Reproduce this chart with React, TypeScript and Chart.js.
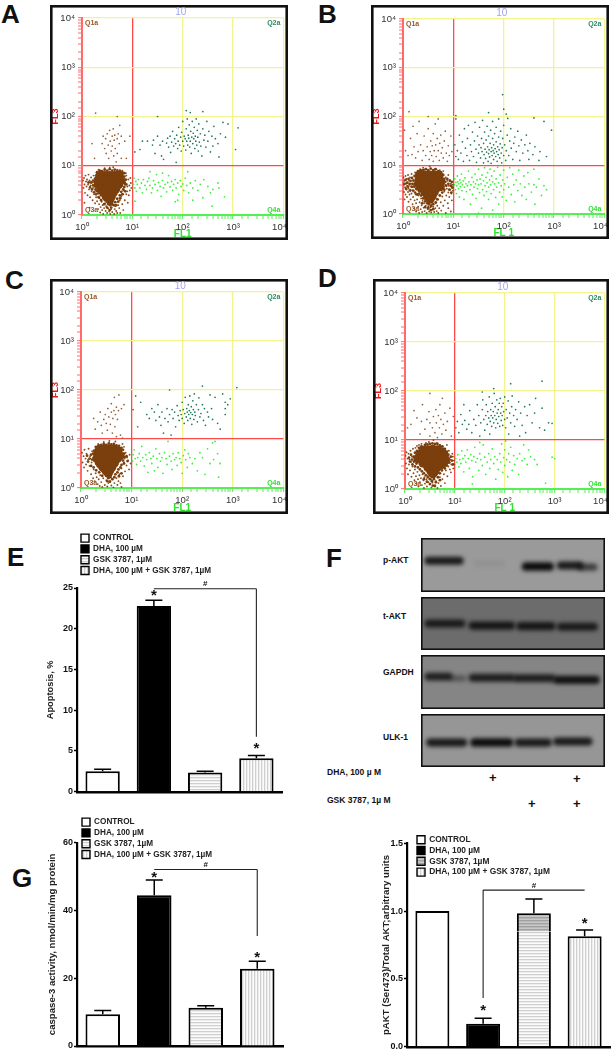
import React, { useEffect, useRef } from 'react';
import { Chart, registerables } from 'chart.js';
Chart.register(...registerables);

/* ---------- flow cytometry events, in decades (log10 of FL1, FL3) ---------- */
const aBlob = [[.36,.8],[.45,.8],[.55,.8],[.65,.8],[.74,.8],[.33,.71],[.43,.71],[.53,.71],[.63,.71],[.73,.71],[.77,.7],[.33,.62],[.43,.62],[.53,.62],[.63,.62],[.73,.62],[.38,.53],[.47,.53],[.57,.53],[.67,.53],[.44,.45],[.53,.45],[.62,.45],[.5,.37],[.58,.37],[.55,.31]];
const aHalo = [[.3,.87],[.35,.9],[.4,.89],[.45,.92],[.5,.9],[.55,.93],[.6,.9],[.65,.92],[.7,.89],[.75,.9],[.8,.87],[.84,.85],[.84,.78],[.87,.72],[.85,.65],[.88,.62],[.84,.57],[.82,.52],[.86,.48],[.78,.47],[.8,.42],[.75,.4],[.76,.34],[.7,.33],[.72,.27],[.66,.26],[.68,.2],[.63,.2],[.6,.22],[.56,.2],[.52,.22],[.58,.15],[.5,.27],[.46,.3],[.42,.35],[.5,.15],[.55,.1],[.38,.4],[.34,.44],[.3,.48],[.27,.52],[.26,.58],[.22,.6],[.25,.66],[.22,.7],[.26,.74],[.28,.8],[.18,.66],[.2,.52],[.16,.56],[.13,.66],[.24,.46],[.28,.42],[.33,.36],[.38,.3],[.44,.22]];
const aQ1 = [[.2,1.45],[.25,1.15],[.27,2.07],[.4,1.45],[.42,1.6],[.45,1.35],[.47,1.55],[.48,1.25],[.5,1.65],[.52,1.42],[.53,1.15],[.55,1.72],[.56,1.5],[.58,1.3],[.6,1.6],[.6,1.4],[.62,1.75],[.63,1.2],[.64,1.52],[.65,1.62],[.66,1.35],[.68,1.08],[.7,1.55],[.7,2.0],[.7,1.25],[.72,1.65],[.74,1.45],[.75,1.82],[.78,1.15],[.78,1.6],[.85,1.5],[.88,1.15],[.95,1.6]];
const aQ3 = [[.02,.7],[.03,.55],[.04,.75],[.05,.62],[.06,.45],[.07,.8],[.08,.68],[.09,.58],[.1,.72],[.11,.4],[.12,.62],[.13,.82],[.14,.52],[.15,.7],[.16,.36],[.17,.6],[.18,.76],[.19,.48],[.2,.66],[.21,.3],[.22,.55],[.23,.8],[.24,.42],[.25,.62],[.26,.24],[.27,.5],[.28,.36],[.29,.86],[.3,.28],[.31,.44],[.32,.12],[.33,.92],[.34,.22],[.35,.34],[.36,.05],[.37,.16],[.38,.9],[.39,.27],[.4,.1],[.41,.2],[.42,.02],[.43,.32],[.44,.14],[.45,.95],[.46,.24],[.47,.08],[.48,.18],[.5,.04],[.5,.28],[.52,.13],[.54,.07],[.55,.96],[.56,.02],[.58,.12],[.6,.06],[.62,.97],[.64,.02],[.65,.12],[.66,.18],[.68,.08],[.7,.04],[.7,.92],[.72,.2],[.74,.14],[.75,.3],[.76,.04],[.78,.38],[.8,.22],[.8,.9],[.82,.1],[.83,.5],[.85,.3],[.86,.7],[.87,.85],[.88,.42],[.9,.58],[.91,.25],[.92,.72],[.93,.4],[.94,.6],[.95,.5],[.96,.75],[.97,.65],[.98,.55],[.85,.62],[.88,.8],[.9,.48],[.82,.42],[.15,.15],[.05,.25]];
const aQ2 = [[1.05,1.28],[1.15,1.33],[1.2,1.5],[1.3,1.5],[1.4,1.42],[1.42,1.52],[1.45,1.25],[1.5,1.6],[1.55,1.42],[1.58,1.2],[1.6,1.5],[1.62,1.13],[1.68,1.46],[1.7,1.56],[1.72,1.38],[1.75,1.6],[1.76,1.27],[1.78,1.48],[1.8,1.7],[1.82,1.4],[1.84,1.55],[1.86,1.45],[1.87,1.07],[1.88,1.62],[1.9,1.35],[1.91,1.5],[1.92,1.78],[1.94,1.42],[1.96,1.58],[1.97,1.3],[1.98,1.68],[2.0,1.5],[2.0,1.9],[2.02,1.4],[2.03,1.6],[2.05,1.55],[2.06,1.32],[2.07,1.75],[2.08,1.5],[2.09,1.95],[2.1,1.42],[2.11,1.62],[2.12,1.56],[2.13,1.83],[2.14,1.38],[2.15,1.5],[2.16,1.7],[2.17,1.25],[2.18,1.58],[2.19,1.9],[2.2,1.45],[2.21,1.66],[2.22,1.55],[2.23,1.78],[2.24,1.35],[2.25,1.6],[2.26,1.5],[2.27,1.95],[2.28,1.42],[2.29,1.72],[2.3,1.58],[2.31,1.3],[2.32,1.85],[2.33,1.48],[2.35,1.65],[2.36,1.4],[2.38,1.2],[2.4,1.75],[2.42,1.52],[2.44,1.62],[2.46,1.38],[2.48,1.9],[2.5,1.5],[2.52,1.7],[2.55,1.28],[2.58,1.6],[2.6,1.4],[2.62,1.8],[2.65,1.55],[2.7,1.45],[2.72,1.18],[2.75,1.65],[2.8,1.88],[2.85,1.58],[2.9,1.85],[3.1,1.77],[3.05,1.33],[1.5,2.0],[2.07,2.12],[2.4,2.1],[2.15,2.08]];
const aQ4 = [[1.02,.62],[1.03,.75],[1.05,.55],[1.07,.68],[1.08,.48],[1.1,.62],[1.12,.72],[1.15,.55],[1.18,.65],[1.2,.45],[1.22,.72],[1.25,.6],[1.28,.52],[1.3,.68],[1.33,.75],[1.35,.6],[1.38,.45],[1.4,.55],[1.42,.7],[1.45,.62],[1.48,.82],[1.5,.5],[1.52,.66],[1.55,.58],[1.57,.38],[1.6,.7],[1.62,.55],[1.65,.62],[1.68,.47],[1.7,.66],[1.72,.8],[1.75,.57],[1.78,.68],[1.8,.5],[1.82,.62],[1.85,.72],[1.87,.55],[1.9,.65],[1.92,.42],[1.95,.7],[1.97,.58],[2.0,.63],[2.02,.5],[2.05,.75],[2.08,.6],[2.1,.88],[2.12,.45],[2.15,.65],[2.2,.55],[2.25,.7],[2.3,.5],[2.35,.62],[2.4,.35],[2.42,.72],[2.5,.58],[2.55,.45],[2.58,.18],[2.6,.52],[2.7,.65],[2.72,.55],[2.83,.37],[1.9,.3],[1.6,.85],[1.35,.88],[1.05,.28],[1.85,.27],[2.2,.3]];

const bBlob = [[.33,.8],[.42,.8],[.52,.8],[.62,.8],[.71,.8],[.32,.71],[.42,.71],[.52,.71],[.62,.71],[.72,.71],[.75,.66],[.31,.62],[.41,.62],[.51,.62],[.61,.62],[.71,.62],[.74,.56],[.36,.53],[.46,.53],[.56,.53],[.66,.53],[.44,.45],[.53,.45],[.62,.45],[.49,.37],[.58,.37],[.54,.31]];
const bHalo = [[.03,.62],[.05,.7],[.06,.52],[.08,.64],[.1,.56],[.11,.72],[.13,.62],[.14,.48],[.15,.68],[.17,.56],[.18,.74],[.19,.62],[.2,.48],[.21,.68],[.22,.56],[.23,.78],[.24,.62],[.24,.44],[.26,.7],[.26,.52],[.27,.84],[.28,.4],[.3,.88],[.32,.42],[.35,.9],[.36,.38],[.4,.9],[.4,.32],[.45,.92],[.44,.26],[.5,.9],[.48,.22],[.55,.93],[.52,.2],[.6,.9],[.56,.16],[.65,.92],[.6,.2],[.7,.88],[.65,.24],[.75,.86],[.68,.3],[.8,.8],[.73,.38],[.82,.72],[.78,.44],[.84,.66],[.82,.5],[.86,.58],[.88,.72],[.9,.62],[.92,.5],[.93,.68],[.95,.58],[.96,.44],[.97,.66],[.98,.54],[.5,.12],[.55,.08],[.44,.14],[.6,.1],[.38,.22]];
const bQ1 = [[.03,1.72],[.05,1.3],[.1,1.2],[.12,2.1],[.15,1.55],[.18,1.22],[.2,1.8],[.22,1.38],[.25,1.15],[.28,1.65],[.3,1.28],[.32,1.9],[.35,1.42],[.38,1.1],[.4,1.3],[.42,1.6],[.45,1.2],[.48,1.38],[.5,1.75],[.5,2.0],[.52,1.12],[.54,1.28],[.55,1.5],[.57,1.2],[.58,1.4],[.6,1.65],[.6,1.08],[.62,1.3],[.64,1.85],[.65,1.42],[.66,1.18],[.68,1.55],[.7,1.3],[.7,1.95],[.72,1.1],[.73,1.45],[.75,1.62],[.76,1.25],[.78,1.36],[.8,1.15],[.82,1.5],[.84,1.7],[.86,1.25],[.88,1.08],[.9,1.4],[.92,1.2],[.95,1.6],[.97,1.28]];
const bQ3 = [[.01,.75],[.02,.6],[.02,.45],[.03,.68],[.03,.3],[.04,.55],[.05,.78],[.05,.4],[.06,.62],[.07,.5],[.07,.72],[.08,.35],[.08,.58],[.09,.65],[.1,.45],[.1,.8],[.11,.52],[.11,.25],[.12,.68],[.13,.4],[.13,.6],[.14,.75],[.15,.3],[.15,.5],[.16,.62],[.17,.42],[.17,.82],[.18,.55],[.19,.2],[.2,.7],[.2,.35],[.21,.48],[.22,.6],[.22,.12],[.23,.28],[.24,.85],[.25,.4],[.26,.05],[.26,.22],[.27,.5],[.28,.3],[.29,.88],[.3,.15],[.31,.38],[.32,.02],[.33,.24],[.34,.92],[.35,.1],[.36,.32],[.37,.18],[.38,.04],[.39,.27],[.4,.95],[.41,.13],[.42,.22],[.43,.06],[.44,.3],[.45,.17],[.46,.93],[.47,.02],[.48,.24],[.49,.1],[.5,.16],[.52,.05],[.53,.98],[.54,.14],[.56,.03],[.57,.2],[.58,.09],[.6,.15],[.62,.04],[.63,.92],[.64,.12],[.65,.22],[.67,.06],[.68,.17],[.7,.3],[.7,.02],[.72,.12],[.73,.9],[.75,.24],[.76,.07],[.78,.36],[.8,.17],[.8,.88],[.82,.46],[.83,.28],[.84,.6],[.85,.75],[.86,.38],[.87,.52],[.88,.68],[.89,.22],[.9,.44],[.9,.8],[.91,.58],[.92,.35],[.93,.7],[.94,.5],[.95,.62],[.96,.42],[.97,.56],[.97,.28],[.98,.66],[.99,.48],[.99,.6],[.9,.12],[.95,.05],[.85,.02]];
const bQ2 = [[1.03,1.42],[1.05,1.18],[1.05,1.95],[1.08,1.3],[1.1,1.12],[1.12,1.62],[1.15,1.25],[1.18,1.48],[1.2,1.08],[1.22,1.75],[1.24,1.35],[1.27,1.2],[1.28,1.55],[1.3,1.82],[1.32,1.1],[1.34,1.42],[1.36,1.28],[1.38,1.68],[1.4,1.18],[1.42,1.5],[1.43,1.88],[1.45,1.33],[1.46,1.06],[1.48,1.6],[1.5,1.25],[1.51,1.42],[1.52,1.78],[1.54,1.15],[1.55,1.36],[1.56,1.55],[1.57,1.28],[1.58,1.92],[1.6,1.05],[1.6,1.45],[1.61,1.22],[1.62,1.68],[1.63,1.33],[1.64,1.14],[1.65,1.52],[1.66,1.27],[1.67,1.8],[1.68,1.38],[1.69,1.08],[1.7,1.24],[1.7,1.6],[1.71,1.32],[1.72,1.17],[1.73,1.45],[1.74,1.72],[1.75,1.28],[1.75,1.04],[1.76,1.36],[1.77,1.2],[1.78,1.55],[1.78,1.9],[1.79,1.3],[1.8,1.12],[1.8,1.42],[1.81,1.25],[1.82,1.65],[1.83,1.34],[1.84,1.18],[1.85,1.48],[1.85,1.78],[1.86,1.28],[1.87,1.08],[1.88,1.38],[1.89,1.22],[1.9,1.58],[1.9,1.95],[1.91,1.32],[1.92,1.15],[1.93,1.44],[1.94,1.7],[1.95,1.25],[1.96,1.05],[1.97,1.36],[1.98,1.55],[2,1.2],[2,1.82],[2.02,1.42],[2.04,1.1],[2.05,1.3],[2.07,1.62],[2.08,1.96],[2.1,1.2],[2.12,1.5],[2.14,1.75],[2.15,1.35],[2.18,1.12],[2.2,1.45],[2.22,1.58],[2.25,1.28],[2.28,1.7],[2.3,1.4],[2.32,1.1],[2.35,1.52],[2.38,1.25],[2.42,1.42],[2.45,1.62],[2.48,1.3],[2.5,1.12],[2.52,1.45],[2.58,1.22],[2.6,1.97],[2.62,1.38],[2.7,1.1],[2.72,1.28],[2.8,1.9],[2.85,1.18],[2.95,1.72],[1.98,2.45],[2.0,2.15],[2.05,2.05],[1.7,2.08],[1.05,2.02]];
const bQ4 = [[1.02,.6],[1.03,.72],[1.04,.5],[1.05,.65],[1.06,.42],[1.07,.58],[1.08,.78],[1.09,.66],[1.1,.52],[1.11,.62],[1.12,.35],[1.13,.7],[1.14,.56],[1.15,.64],[1.16,.82],[1.17,.48],[1.18,.6],[1.2,.68],[1.21,.3],[1.22,.55],[1.23,.74],[1.25,.62],[1.26,.46],[1.28,.58],[1.3,.88],[1.31,.66],[1.33,.5],[1.34,.2],[1.35,.6],[1.37,.75],[1.38,.4],[1.4,.66],[1.41,.55],[1.43,.82],[1.44,.62],[1.45,.32],[1.47,.7],[1.48,.52],[1.5,.92],[1.5,.6],[1.52,.44],[1.53,.72],[1.55,.62],[1.56,.12],[1.57,.8],[1.58,.5],[1.6,.68],[1.61,.38],[1.62,.95],[1.63,.58],[1.65,.75],[1.66,.46],[1.67,.64],[1.68,.85],[1.7,.3],[1.7,.55],[1.72,.7],[1.73,.92],[1.74,.6],[1.75,.42],[1.76,.78],[1.78,.66],[1.78,.08],[1.8,.5],[1.81,.88],[1.82,.62],[1.84,.34],[1.85,.72],[1.86,.55],[1.88,.96],[1.9,.64],[1.9,.2],[1.92,.45],[1.93,.8],[1.95,.58],[1.97,.35],[1.98,.7],[2,.9],[2,.5],[2.02,.62],[2.05,.28],[2.07,.75],[2.1,.55],[2.12,.95],[2.15,.4],[2.18,.82],[2.2,.6],[2.22,.25],[2.25,.7],[2.28,.48],[2.3,.9],[2.33,.62],[2.36,.38],[2.4,.78],[2.42,.55],[2.45,.3],[2.48,.85],[2.5,.62],[2.55,.45],[2.6,.92],[2.62,.2],[2.65,.55],[2.7,.72],[2.75,.38],[2.8,.58],[2.85,.5],[2.6,.6],[1.5,.02]];

const cBlob = [[.36,.78],[.45,.79],[.55,.8],[.65,.79],[.73,.76],[.33,.69],[.43,.7],[.53,.7],[.63,.7],[.73,.68],[.77,.66],[.32,.6],[.42,.6],[.52,.6],[.62,.6],[.72,.6],[.37,.51],[.46,.51],[.56,.51],[.66,.51],[.43,.43],[.52,.43],[.61,.43],[.49,.36],[.57,.36],[.54,.3]];
const cHalo = [[.3,.84],[.35,.87],[.4,.88],[.45,.9],[.5,.88],[.55,.91],[.6,.89],[.65,.9],[.7,.87],[.75,.86],[.8,.82],[.83,.78],[.85,.7],[.86,.63],[.83,.56],[.85,.5],[.8,.47],[.78,.42],[.74,.38],[.72,.32],[.68,.28],[.66,.22],[.62,.18],[.58,.22],[.54,.2],[.5,.25],[.57,.13],[.52,.14],[.46,.3],[.42,.35],[.38,.4],[.34,.44],[.3,.5],[.27,.55],[.25,.62],[.22,.58],[.24,.7],[.2,.68],[.26,.76],[.17,.6],[.14,.54],[.12,.66],[.2,.45],[.25,.42],[.3,.36],[.36,.32],[.42,.25],[.75,.24],[.8,.3],[.9,.65],[.92,.55]];
const cQ1 = [[.25,1.42],[.28,1.2],[.33,1.35],[.38,1.55],[.4,1.28],[.42,1.12],[.45,1.4],[.48,1.5],[.5,1.32],[.52,1.18],[.53,1.62],[.55,1.45],[.58,1.3],[.6,1.55],[.6,1.72],[.62,1.12],[.63,1.42],[.65,1.58],[.66,1.85],[.67,1.25],[.68,1.5],[.7,1.65],[.7,1.05],[.72,1.4],[.74,1.58],[.78,1.08],[.8,1.62],[.85,1.7],[.82,1.02],[.75,1.9]];
const cQ3 = [[.02,.72],[.03,.52],[.05,.65],[.06,.42],[.07,.78],[.09,.6],[.1,.48],[.11,.7],[.13,.35],[.14,.58],[.15,.8],[.17,.45],[.18,.65],[.2,.28],[.21,.52],[.22,.75],[.24,.2],[.25,.38],[.27,.14],[.28,.84],[.29,.3],[.31,.22],[.33,.08],[.34,.9],[.35,.18],[.37,.04],[.38,.26],[.4,.12],[.42,.02],[.44,.2],[.45,.94],[.47,.06],[.5,.16],[.52,.03],[.54,.1],[.56,.96],[.58,.14],[.6,.05],[.62,.18],[.64,.01],[.66,.1],[.68,.95],[.7,.2],[.72,.06],[.74,.14],[.76,.28],[.78,.1],[.8,.02],[.8,.4],[.82,.9],[.83,.24],[.85,.52],[.87,.34],[.88,.72],[.9,.46],[.91,.62],[.93,.56],[.95,.38],[.96,.68],[.98,.5],[.85,.84],[.86,.6]];
const cQ2 = [[1.03,1.6],[1.08,1.88],[1.12,1.25],[1.18,1.75],[1.3,1.5],[1.35,1.42],[1.4,1.62],[1.45,1.55],[1.48,1.38],[1.52,1.7],[1.55,1.45],[1.58,1.28],[1.6,1.55],[1.63,1.12],[1.66,1.42],[1.7,1.62],[1.72,1.35],[1.75,1.5],[1.78,1.08],[1.8,1.6],[1.82,1.42],[1.85,1.55],[1.87,1.25],[1.9,1.68],[1.92,1.48],[1.94,1.38],[1.96,1.58],[1.98,1.5],[2,1.75],[2,1.42],[2.02,1.6],[2.04,1.32],[2.05,1.52],[2.06,1.85],[2.08,1.45],[2.09,1.62],[2.1,1.55],[2.11,1.38],[2.12,1.7],[2.13,1.5],[2.14,1.58],[2.15,1.88],[2.16,1.42],[2.17,1.54],[2.18,1.66],[2.19,1.3],[2.2,1.5],[2.21,1.78],[2.22,1.6],[2.23,1.4],[2.24,1.92],[2.25,1.55],[2.26,1.48],[2.28,1.7],[2.3,1.35],[2.32,1.6],[2.33,1.84],[2.35,1.45],[2.37,1.52],[2.4,1.7],[2.42,1.38],[2.44,1.62],[2.46,1.28],[2.5,1.55],[2.52,1.45],[2.55,1.9],[2.58,1.62],[2.6,1.4],[2.65,1.85],[2.7,1.32],[2.75,1.2],[2.8,1.92],[2.85,1.75],[2.9,1.7],[2.95,1.82],[2.85,1.62],[1.75,2.0],[2.4,2.08],[2.85,1.5],[3.08,2.05]];
const cQ4 = [[1.02,.55],[1.03,.68],[1.05,.78],[1.07,.6],[1.1,.48],[1.12,.62],[1.15,.7],[1.18,.55],[1.2,.85],[1.22,.62],[1.25,.45],[1.28,.68],[1.3,.58],[1.32,.32],[1.35,.72],[1.38,.6],[1.4,.5],[1.43,.65],[1.45,.35],[1.48,.8],[1.5,.6],[1.52,.42],[1.55,.7],[1.57,.55],[1.6,.62],[1.62,.3],[1.65,.72],[1.68,.6],[1.7,.48],[1.72,.95],[1.75,.65],[1.78,.55],[1.8,.38],[1.82,.7],[1.85,.58],[1.88,.62],[1.9,.46],[1.92,.72],[1.95,.6],[1.98,.52],[2,.3],[2.02,.66],[2.05,.78],[2.07,.58],[2.1,.42],[2.12,.7],[2.15,.62],[2.2,.5],[2.25,.6],[2.3,.35],[2.35,.72],[2.4,.62],[2.45,.28],[2.5,.8],[2.55,.5],[2.6,.92],[2.62,.58],[2.7,.7],[2.75,.5],[2.72,.22],[2.65,.95]];

const dBlob = [[.36,.79],[.46,.8],[.56,.81],[.66,.8],[.74,.76],[.3,.7],[.4,.71],[.5,.72],[.6,.72],[.7,.71],[.79,.68],[.26,.62],[.36,.62],[.46,.62],[.56,.62],[.66,.62],[.76,.62],[.81,.58],[.36,.53],[.46,.53],[.56,.53],[.66,.53],[.74,.5],[.46,.44],[.55,.44],[.64,.44],[.52,.36],[.6,.36],[.56,.31]];
const dHalo = [[.08,.64],[.1,.56],[.12,.7],[.14,.6],[.15,.5],[.17,.66],[.18,.56],[.2,.74],[.2,.46],[.22,.62],[.23,.52],[.24,.78],[.26,.44],[.28,.84],[.3,.4],[.33,.87],[.34,.36],[.4,.9],[.38,.32],[.45,.91],[.42,.28],[.5,.92],[.46,.24],[.55,.93],[.5,.2],[.6,.92],[.54,.16],[.65,.92],[.58,.2],[.7,.89],[.62,.14],[.75,.87],[.66,.24],[.8,.82],[.7,.32],[.84,.76],[.74,.38],[.87,.7],[.8,.42],[.88,.62],[.84,.48],[.89,.54],[.92,.66],[.94,.58],[.96,.5],[.5,.1],[.56,.07],[.44,.15],[.6,.06],[.38,.2],[.7,.18]];
const dQ1 = [[.05,1.25],[.12,1.32],[.18,1.6],[.24,1.45],[.3,1.12],[.33,1.38],[.35,1.72],[.4,1.22],[.44,1.42],[.48,1.58],[.5,1.08],[.5,1.35],[.5,1.95],[.55,1.25],[.57,1.48],[.6,1.15],[.62,1.62],[.63,1.35],[.65,1.05],[.67,1.5],[.69,1.25],[.7,1.72],[.72,1.42],[.74,1.12],[.75,1.85],[.77,1.32],[.8,1.55],[.82,1.2],[.85,1.38],[.9,1.65],[.93,1.08],[.97,1.48]];
const dQ3 = [[.01,.68],[.02,.52],[.03,.75],[.04,.42],[.05,.62],[.06,.3],[.07,.72],[.08,.5],[.09,.6],[.1,.38],[.11,.78],[.12,.55],[.13,.25],[.14,.66],[.15,.46],[.16,.82],[.17,.32],[.18,.56],[.19,.18],[.2,.4],[.21,.84],[.22,.26],[.23,.12],[.24,.88],[.25,.35],[.26,.2],[.27,.05],[.28,.9],[.29,.28],[.3,.14],[.32,.22],[.33,.92],[.34,.08],[.35,.3],[.37,.18],[.38,.02],[.39,.24],[.4,.11],[.42,.94],[.43,.2],[.44,.05],[.46,.26],[.47,.14],[.48,.96],[.5,.1],[.52,.2],[.53,.03],[.55,.13],[.57,1.0],[.58,.22],[.6,.08],[.62,.16],[.64,.94],[.65,.02],[.67,.12],[.7,.24],[.72,.06],[.75,.2],[.78,.3],[.8,.12],[.82,.38],[.84,.9],[.85,.26],[.87,.46],[.88,.78],[.9,.4],[.91,.6],[.93,.5],[.95,.72],[.97,.42],[.98,.58],[.99,.5],[.92,.34],[.96,.66]];
const dQ2 = [[1.02,1.25],[1.05,1.38],[1.08,1.15],[1.12,1.52],[1.15,1.32],[1.18,1.72],[1.2,1.4],[1.24,1.22],[1.28,1.32],[1.3,1.6],[1.34,1.15],[1.38,1.42],[1.42,1.3],[1.45,1.72],[1.48,1.5],[1.5,1.08],[1.52,1.35],[1.55,1.62],[1.56,1.82],[1.58,1.42],[1.6,1.2],[1.62,1.5],[1.63,1.72],[1.65,1.32],[1.66,1.58],[1.68,1.45],[1.69,1.88],[1.7,1.12],[1.71,1.38],[1.72,1.62],[1.73,1.5],[1.74,1.28],[1.75,1.75],[1.76,1.45],[1.77,1.58],[1.78,1.35],[1.79,1.95],[1.8,1.5],[1.81,1.68],[1.82,1.25],[1.83,1.42],[1.84,1.82],[1.85,1.55],[1.86,1.34],[1.87,1.62],[1.88,1.48],[1.89,1.75],[1.9,1.28],[1.91,1.85],[1.92,1.55],[1.93,1.4],[1.94,1.68],[1.95,1.5],[1.96,1.3],[1.97,1.75],[1.98,1.58],[2,1.42],[2,1.88],[2.02,1.25],[2.03,1.62],[2.05,1.45],[2.07,1.8],[2.08,1.12],[2.1,1.55],[2.12,1.35],[2.14,1.68],[2.15,1.9],[2.18,1.5],[2.2,1.28],[2.22,1.62],[2.25,1.42],[2.28,1.78],[2.3,1.08],[2.32,1.55],[2.35,1.3],[2.4,1.68],[2.42,1.15],[2.45,1.5],[2.5,1.72],[2.55,1.35],[2.6,1.55],[2.62,1.85],[2.7,1.25],[2.75,1.65],[2.8,1.2],[2.88,1.35],[2.95,1.34],[1.78,2.05],[2.12,2.15],[2.75,2.2],[1.55,1.98]];
const dQ4 = [[1.02,.62],[1.04,.55],[1.06,.7],[1.08,.45],[1.1,.6],[1.12,.52],[1.14,.78],[1.16,.62],[1.18,.35],[1.2,.68],[1.22,.55],[1.25,.8],[1.27,.62],[1.29,.42],[1.32,.7],[1.34,.58],[1.36,.25],[1.38,.66],[1.4,.85],[1.42,.55],[1.45,.62],[1.48,.38],[1.5,.72],[1.52,.6],[1.55,.48],[1.57,.9],[1.6,.65],[1.62,.3],[1.65,.55],[1.68,.72],[1.7,.42],[1.72,.6],[1.75,.82],[1.78,.52],[1.8,.66],[1.82,.2],[1.85,.6],[1.87,.4],[1.9,.72],[1.92,.55],[1.94,.92],[1.96,.34],[1.98,.64],[2,.8],[2,.48],[2.02,.98],[2.04,.6],[2.06,.25],[2.08,.72],[2.1,.55],[2.12,.85],[2.15,.38],[2.18,.68],[2.2,.5],[2.25,.62],[2.28,.3],[2.3,.72],[2.35,.58],[2.38,.9],[2.4,.62],[2.45,.5],[2.48,.8],[2.52,.66],[2.6,.6],[2.65,.5],[2.95,.65],[3.0,.62],[2.82,.12],[1.35,.1],[1.5,.95]];

/* ---------- bar panels ---------- */
const groups = ['CONTROL', 'DHA, 100 µM', 'GSK 3787, 1µM', 'DHA, 100 µM + GSK 3787, 1µM'];
const apoptosis = [2.5, 22.8, 2.35, 4.1];
const apoptosisTop = [2.75, 23.5, 2.5, 4.45];
const caspase = [9.4, 44.5, 11.3, 22.8];
const caspaseTop = [10.5, 49, 11.9, 25];
const pakt = [1, 0.17, 0.85, 0.815];
const paktDarkCap = [null, null, 0.135, null];
const paktTop = [null, 0.21, 1.09, 0.86];

/* ---------- western blots: [from %, to %, row %, density] ---------- */
const pAktBands = [[4,21,42,.9],[30,44,47,.07],[57,70,53,1],[76,86,51,.9],[87,94,54,.65]];
const tAktBands = [[4,22,50,.85],[28,49,54,.9],[54,71,55,.9],[76,94,56,.85]];
const gapdhBands = [[4,15,40,.85],[17,23,43,.4],[28,49,42,.85],[52,71,43,.85],[74,95,46,.95]];
const ulkBands = [[5,23,54,.9],[29,48,54,1],[53,69,54,.9],[74,91,52,.9]];

const FONT = '"Liberation Sans", Arial, sans-serif';
const decadeLabels: Record<number, string> = { 1: '10⁰', 10: '10¹', 100: '10²', 1000: '10³', 10000: '10⁴' };
const isDecade = (v: number) => decadeLabels[v] !== undefined;
const toEvents = (list: number[][]) => list.map(([x, y]) => ({ x: 10 ** x, y: 10 ** y }));

const stripes = (vertical: boolean, shades: string[]) => {
  const c = document.createElement('canvas');
  c.width = vertical ? shades.length : 1;
  c.height = vertical ? 1 : shades.length;
  const g = c.getContext('2d')!;
  shades.forEach((s, i) => { g.fillStyle = s; g.fillRect(vertical ? i : 0, vertical ? 0 : i, 1, 1); });
  return g.createPattern(c, 'repeat')!;
};

const frame = (lw: number, background?: string) => ({
  id: 'frame',
  beforeDraw(ch: any) {
    if (!background) return;
    ch.ctx.fillStyle = background;
    ch.ctx.fillRect(0, 0, ch.width, ch.height);
  },
  afterDraw(ch: any) {
    const c = ch.ctx;
    c.save(); c.strokeStyle = '#111'; c.lineWidth = lw;
    c.strokeRect(lw / 2, lw / 2, ch.width - lw, ch.height - lw);
    c.restore();
  },
});

const fixSize = (key: 'width' | 'height', size: number) => (s: any) => {
  s[key] = size;
  s.paddingLeft = s.paddingRight = s.paddingTop = s.paddingBottom = 0;
};

function flowConfig(g: any, d: any) {
  const BROWN = '#7a3f0c';
  const grid = (axisColor: string) => ({
    color: (c: any) => (c.tick.value === 10 ? '#ff4a4a' : isDecade(c.tick.value) ? '#f4f48e' : 'transparent'),
    lineWidth: (c: any) => (isDecade(c.tick.value) ? 1.3 : 0),
    tickColor: axisColor, tickWidth: 1, tickLength: 4, drawTicks: true,
  });
  const tickFont = { family: FONT, size: 9.5 };
  const cb = (v: any) => decadeLabels[v] ?? '';
  const cornerLabels = {
    id: 'flowText',
    afterDraw(ch: any) {
      const { left, right, top, bottom } = ch.chartArea;
      const c = ch.ctx;
      c.save(); c.textBaseline = 'middle';
      c.font = `bold 7px ${FONT}`;
      c.textAlign = 'left';
      c.fillStyle = '#96582a'; c.fillText('Q1a', left + 3, top + 5); c.fillText('Q3a', left + 3, bottom - 5);
      c.textAlign = 'right';
      c.fillStyle = '#2a8a60'; c.fillText('Q2a', right - 3, top + 5);
      c.fillStyle = '#33e033'; c.fillText('Q4a', right - 3, bottom - 5);
      c.font = `10px ${FONT}`; c.textAlign = 'center'; c.fillStyle = '#a3a3ee';
      c.fillText('10', (left + right) / 2 - 2, top - 6);
      c.restore();
    },
  };
  const ds = (list: number[][], color: string, r: number) => ({
    data: toEvents(list), backgroundColor: color, borderWidth: 0, pointRadius: r, pointHoverRadius: r,
  });
  return {
    type: 'scatter',
    data: { datasets: [ds(d.blob, BROWN, 4.6), ds(d.halo, BROWN, 1.4), ds(d.q3, '#8a4e1e', .95), ds(d.q1, '#96603a', .85), ds(d.q2, '#1f7a55', .85), ds(d.q4, '#3cf03c', .9)] },
    plugins: [frame(2.6), cornerLabels],
    options: {
      responsive: false, animation: false, events: [],
      layout: { padding: { top: g.top, right: g.right, left: 0, bottom: 0 } },
      plugins: { legend: { display: false }, tooltip: { enabled: false } },
      scales: {
        x: {
          type: 'logarithmic', min: 1, max: 10000, afterFit: fixSize('height', g.bottom),
          grid: grid('#55ee55'), border: { color: '#55ee55', width: 2 },
          ticks: { autoSkip: false, maxRotation: 0, callback: (v: any) => (v === 10000 ? '10⁴   ' : cb(v)), color: '#333', font: tickFont, padding: 3 },
          title: { display: true, text: d.xTitle, color: '#2fe02f', font: { family: FONT, size: 10, weight: 'bold' }, padding: 0 },
        },
        y: {
          type: 'logarithmic', min: 1, max: 10000, afterFit: fixSize('width', g.left),
          grid: grid('#ff6a6a'), border: { color: '#ff6a6a', width: 2 },
          ticks: { autoSkip: false, callback: cb, color: '#333', font: tickFont, padding: 3 },
          title: { display: true, text: 'FL3', color: '#f01818', font: { family: FONT, size: 9, weight: 'bold' }, padding: 0 },
        },
      },
    },
  };
}

function blotConfig(bands: number[][], background: string) {
  const blur = {
    id: 'blur',
    beforeDatasetsDraw(ch: any) { ch.ctx.save(); ch.ctx.filter = 'blur(1.9px)'; },
    afterDatasetsDraw(ch: any) { ch.ctx.restore(); },
  };
  return {
    type: 'scatter',
    data: {
      datasets: bands.map(([from, to, row, density]) => ({
        data: [{ x: from, y: row }, { x: to, y: row }], showLine: true, pointRadius: 0,
        borderColor: `rgba(12,12,12,${density})`, borderWidth: 4.5 + 4 * density, borderCapStyle: 'round',
      })),
    },
    plugins: [frame(1.6, background), blur],
    options: {
      responsive: false, animation: false, events: [],
      plugins: { legend: { display: false }, tooltip: { enabled: false } },
      scales: { x: { display: false, min: 0, max: 100 }, y: { display: false, min: 0, max: 100, reverse: true } },
    },
  };
}

function barConfig(b: any) {
  const hStripe = stripes(false, ['#cfcfcf', '#eeeeee', '#fbfbfb']);
  const vStripe = stripes(true, ['#cfcfcf', '#eeeeee', '#fbfbfb']);
  const darkStripe = stripes(false, ['#a0a0a0', '#b8b8b8', '#c8c8c8']);
  const fills = ['#fff', '#000', hStripe, vStripe];
  const legendFills = b.darkLegend ? ['#fff', '#000', darkStripe, vStripe] : fills;
  const marks = {
    id: 'marks',
    afterLayout(ch: any) {
      const lg = ch.legend;
      lg.left = b.legendX - lg.options.labels.padding;
      lg.top = b.legendY - lg.options.labels.padding;
      lg.right = ch.width; lg.bottom = ch.height;
    },
    afterDatasetsDraw(ch: any) {
      const c = ch.ctx; const xs = ch.scales.x; const ys = ch.scales.y;
      const bars = ch.getDatasetMeta(0).data;
      c.save(); c.strokeStyle = '#000'; c.lineWidth = 1.5;
      b.top.forEach((v: number | null, i: number) => {
        if (v === null) return;
        const x = bars[i].x; const barTop = ys.getPixelForValue(b.stackTop ? b.stackTop[i] : b.values[i]); const y = ys.getPixelForValue(v);
        c.beginPath(); c.moveTo(x, barTop); c.lineTo(x, y); c.moveTo(x - 8.5, y); c.lineTo(x + 8.5, y); c.stroke();
      });
      c.lineWidth = 1.1; c.strokeStyle = '#222';
      const x1 = xs.getPixelForValue(1); const x2 = xs.getPixelForValue(3);
      const yB = ys.getPixelForValue(b.bracket.level); const yEnd = ys.getPixelForValue(b.bracket.end);
      const legX = b.bracket.legAt === 1 ? x1 : x2;
      c.beginPath(); c.moveTo(x1, yB); c.lineTo(x2, yB); c.moveTo(legX, yB); c.lineTo(legX, yEnd); c.stroke();
      c.fillStyle = '#111'; c.textAlign = 'center'; c.textBaseline = 'alphabetic';
      c.font = `bold 8px ${FONT}`;
      c.fillText('#', (x1 + x2) / 2, yB - 2.5);
      c.font = `bold 15px ${FONT}`;
      b.stars.forEach(([i, v]: number[]) => c.fillText('*', bars[i].x, ys.getPixelForValue(v) + 5));
      c.restore();
    },
  };
  const datasets: any[] = [{
    data: b.values, backgroundColor: fills, borderColor: '#000',
    borderWidth: b.cap ? (c: any) => (c.dataIndex === 2 ? { top: 0, left: 2, right: 2, bottom: 2 } : 2) : 2,
    barPercentage: 0.67, categoryPercentage: 1, stack: 's',
  }];
  if (b.cap) datasets.push({
    data: b.cap, backgroundColor: darkStripe, borderColor: '#000', borderWidth: { top: 2, left: 2, right: 2, bottom: 0 },
    barPercentage: 0.67, categoryPercentage: 1, stack: 's',
  });
  const fontB = { family: FONT, size: 9, weight: 'bold' };
  return {
    type: 'bar',
    data: { labels: groups, datasets },
    plugins: [marks],
    options: {
      responsive: false, animation: false, events: [],
      layout: { padding: { top: b.padTop, right: b.padRight, bottom: b.padBottom, left: 0 } },
      plugins: {
        tooltip: { enabled: false },
        legend: {
          position: 'chartArea', align: 'start',
          labels: {
            boxWidth: 8, boxHeight: 8, padding: b.legendGap, color: '#222',
            font: { family: FONT, size: b.legendSize, weight: 'bold' },
            generateLabels: () => groups.map((text, i) => ({
              text, fillStyle: legendFills[i], strokeStyle: '#000', lineWidth: 1.4, hidden: false, index: i, fontColor: '#222',
            })),
          },
        },
      },
      scales: {
        x: {
          stacked: true, afterFit: fixSize('height', 0),
          grid: { display: false }, border: { color: '#000', width: 2.4 }, ticks: { display: false },
        },
        y: {
          stacked: true, min: 0, max: b.max, afterFit: fixSize('width', b.axisAt),
          grid: { drawOnChartArea: false, tickLength: 3, tickColor: '#000', tickWidth: 1.6 },
          border: { color: '#000', width: 2.2 },
          ticks: { stepSize: b.step, padding: 1, color: '#111', font: fontB, callback: (v: number) => (b.decimals ? v.toFixed(b.decimals) : String(v)) },
          title: { display: true, text: b.title, color: '#222', font: { ...fontB, size: b.titleSize }, padding: 0 },
        },
      },
    },
  };
}

function Plot({ x, y, w, h, build }: any) {
  const ref = useRef<HTMLCanvasElement>(null);
  useEffect(() => {
    const chart = new Chart(ref.current!, build());
    return () => chart.destroy();
  }, []);
  return <canvas ref={ref} width={w} height={h} style={{ position: 'absolute', left: x, top: y, width: w, height: h, display: 'block' }} />;
}

function Txt({ x, y, size, children, weight = 'bold', color = '#111' }: any) {
  return <div style={{ position: 'absolute', left: x, top: y, transform: 'translateY(-50%)', font: `${weight} ${size}px ${FONT}`, color, whiteSpace: 'nowrap', lineHeight: 1 }}>{children}</div>;
}

const flowPanels = [
  { g: { x: 50, y: 5, w: 238, h: 235, left: 32, top: 13, right: 3, bottom: 25 }, d: { blob: aBlob, halo: aHalo, q1: aQ1, q2: aQ2, q3: aQ3, q4: aQ4, xTitle: 'FL1' } },
  { g: { x: 371, y: 5, w: 238, h: 234, left: 32, top: 14, right: 3, bottom: 25 }, d: { blob: bBlob, halo: bHalo, q1: bQ1, q2: bQ2, q3: bQ3, q4: bQ4, xTitle: 'FL 1' } },
  { g: { x: 50, y: 279, w: 238, h: 235, left: 31, top: 13, right: 3, bottom: 26 }, d: { blob: cBlob, halo: cHalo, q1: cQ1, q2: cQ2, q3: cQ3, q4: cQ4, xTitle: 'FL1' } },
  { g: { x: 373, y: 279, w: 236, h: 235, left: 32, top: 14, right: 2, bottom: 25 }, d: { blob: dBlob, halo: dHalo, q1: dQ1, q2: dQ2, q3: dQ3, q4: dQ4, xTitle: 'FL 1' } },
];

export default function App() {
  return (
    <div style={{ position: 'absolute', left: 0, top: 0, width: 613, height: 1050, background: '#fff', overflow: 'hidden' }}>
      {flowPanels.map((p, i) => <Plot key={i} x={p.g.x} y={p.g.y} w={p.g.w} h={p.g.h} build={() => flowConfig(p.g, p.d)} />)}

      <Txt x={1} y={14} size={26}>A</Txt>
      <Txt x={318} y={14} size={26}>B</Txt>
      <Txt x={5} y={280} size={26}>C</Txt>
      <Txt x={318} y={278} size={26}>D</Txt>
      <Txt x={7} y={557} size={26}>E</Txt>
      <Txt x={326} y={558} size={26}>F</Txt>
      <Txt x={12} y={878} size={26}>G</Txt>

      <Plot x={45} y={528} w={245} h={272} build={() => barConfig({
        values: apoptosis, top: apoptosisTop, max: 25, step: 5, title: 'Apoptosis, %', titleSize: 9.3, axisAt: 32,
        padTop: 60, padRight: 8, padBottom: 8.3, legendX: 36, legendY: 6, legendSize: 8.2, legendGap: 2.6,
        bracket: { level: 24.9, end: 6.75, legAt: 3 }, stars: [[1, 24.1], [3, 5.36]],
      })} />
      <Plot x={47} y={815} w={243} h={235} build={() => barConfig({
        values: caspase, top: caspaseTop, max: 60, step: 20, title: 'caspase-3 activity, nmol/min/mg protein', titleSize: 9.6, axisAt: 30,
        padTop: 27.7, padRight: 7, padBottom: 4, legendX: 35, legendY: 3, legendSize: 8.2, legendGap: 2.6,
        bracket: { level: 52.1, end: 32.5, legAt: 3 }, stars: [[1, 50], [3, 26.3]],
      })} />
      <Plot x={381} y={830} w={232} h={220} build={() => barConfig({
        values: pakt, cap: paktDarkCap, stackTop: [null, 0.17, 0.985, 0.815], top: paktTop, max: 1.5, step: 0.5, decimals: 1,
        title: 'pAKT (Ser473)/Total AKT;arbitrary units', titleSize: 9.6, axisAt: 26, darkLegend: true,
        padTop: 13.3, padRight: 3, padBottom: 3.3, legendX: 36, legendY: 5.5, legendSize: 8.4, legendGap: 2.4,
        bracket: { level: 1.155, end: 0.36, legAt: 1 }, stars: [[1, 0.27], [3, 0.91]],
      })} />

      <Plot x={421} y={538} w={184} h={54} build={() => blotConfig(pAktBands, '#9a9a9a')} />
      <Plot x={421} y={597} w={184} h={53} build={() => blotConfig(tAktBands, '#6c6c6c')} />
      <Plot x={421} y={655} w={184} h={54} build={() => blotConfig(gapdhBands, '#858585')} />
      <Plot x={421} y={714} w={184} h={53} build={() => blotConfig(ulkBands, '#969696')} />
      <Txt x={383} y={560} size={8.5}>p-AKT</Txt>
      <Txt x={383} y={616} size={8.5}>t-AKT</Txt>
      <Txt x={383} y={672} size={8.5}>GAPDH</Txt>
      <Txt x={383} y={737} size={8.5}>ULK-1</Txt>
      <Txt x={327} y={772} size={8.5}>DHA, 100 µ M</Txt>
      <Txt x={327} y={800} size={8.5}>GSK 3787, 1µ M</Txt>
      <Txt x={489} y={777} size={13}>+</Txt>
      <Txt x={573} y={778} size={13}>+</Txt>
      <Txt x={528} y={803} size={13}>+</Txt>
      <Txt x={573} y={803} size={13}>+</Txt>
    </div>
  );
}
